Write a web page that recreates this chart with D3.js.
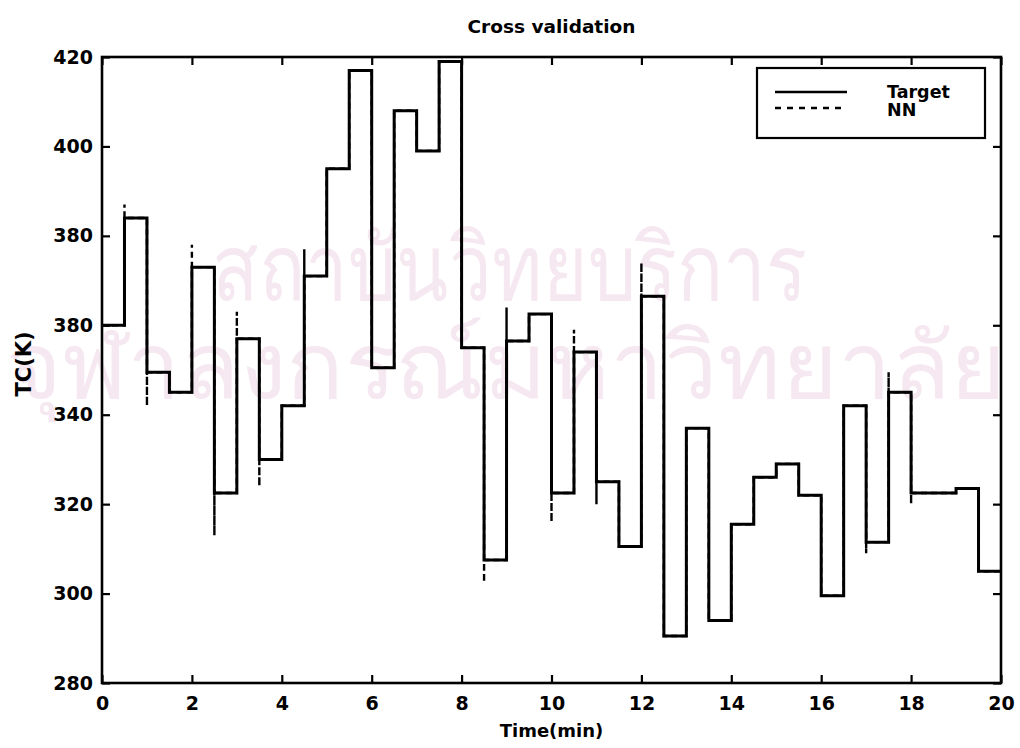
<!DOCTYPE html>
<html>
<head>
<meta charset="utf-8">
<script src="https://cdn.jsdelivr.net/npm/d3@7"></script>
<style>
  html, body { margin: 0; padding: 0; background: #fff; }
  svg { display: block; }
  text { font-family: "DejaVu Sans", "Liberation Sans", Arial, sans-serif; }
</style>
</head>
<body>
<svg id="chart" width="1020" height="748"></svg>
<script>
// ---- data ----
const stepTime = 0.5; // minutes per step
const targetValues = [360, 384, 349.5, 345, 373, 322.5, 357, 330, 342, 371,
                      395, 417, 350.5, 408, 399, 419, 355, 307.5, 356.5, 362.5,
                      322.5, 354, 325, 310.5, 366.5, 290.5, 337, 294, 315.5, 326,
                      329, 322, 299.5, 342, 311.5, 345, 322.5, 322.5, 323.5, 305];
const nnValues = targetValues.slice();
// overshoot of NN at the start of each step (null = none)
const nnPeaks = [null, 387, 342, null, 378, 313, 363, 324, null, 377,
                 null, null, null, null, null, null, null, 302.5, 364, null,
                 316, 359, 320, null, 374, null, null, null, null, null,
                 null, null, null, null, 309, 349.5, 320, null, null, null];
const xTicks = [0, 2, 4, 6, 8, 10, 12, 14, 16, 18, 20];
const yTicks = [280, 300, 320, 340, 360, 380, 400, 420];
const yTickLabels = ["280", "300", "320", "340", "380", "380", "400", "420"];
const title = "Cross validation";
const xLabel = "Time(min)";
const yLabel = "TC(K)";
const legendNames = ["Target", "NN"];
const watermarkLines = ["สถาบันวิทยบริการ", "จุฬาลงกรณ์มหาวิทยาลัย"];

// ---- layout ----
const svg = d3.select("#chart");
const L = 102, R = 1001, T = 57, B = 683;
const x = d3.scaleLinear().domain([0, 20]).range([L, R]);
const y = d3.scaleLinear().domain([280, 420]).range([B, T]);
const FONT = "'DejaVu Sans', 'Liberation Sans', Arial, sans-serif";

// watermark (faint scan background)
const wm = svg.append("g").attr("fill", "#f6e8f0")
  .attr("font-family", "'Noto Sans Thai','Noto Sans','DejaVu Sans',sans-serif");
wm.append("text").attr("x", 212).attr("y", 300)
  .attr("font-size", 92).attr("textLength", 595).attr("lengthAdjust", "spacingAndGlyphs")
  .text(watermarkLines[0]);
wm.append("text").attr("x", 6).attr("y", 398)
  .attr("font-size", 92).attr("textLength", 1000).attr("lengthAdjust", "spacingAndGlyphs")
  .text(watermarkLines[1]);

// target path
const targetPts = [];
targetValues.forEach((v, i) => {
  targetPts.push([i * stepTime, v]);
  targetPts.push([(i + 1) * stepTime, v]);
});
const line = d3.line().x(d => x(d[0])).y(d => y(d[1]));

// NN path with overshoot spikes
const nnPts = [];
nnValues.forEach((v, i) => {
  const t0 = i * stepTime;
  if (i > 0) nnPts.push([t0, nnValues[i - 1]]);
  if (nnPeaks[i] != null) nnPts.push([t0, nnPeaks[i]]);
  nnPts.push([t0, v]);
  nnPts.push([(i + 1) * stepTime, v]);
});

svg.append("path").attr("d", line(targetPts))
  .attr("fill", "none").attr("stroke", "#000").attr("stroke-width", 3)
  .attr("stroke-linejoin", "miter");
svg.append("path").attr("d", line(nnPts))
  .attr("fill", "none").attr("stroke", "#000").attr("stroke-width", 2.4)
  .attr("stroke-dasharray", "6,4");

// axes box
svg.append("rect").attr("x", L).attr("y", T).attr("width", R - L).attr("height", B - T)
  .attr("fill", "none").attr("stroke", "#000").attr("stroke-width", 2.6);

const tl = 8;
const fontTick = 19;
const bottomAxis = d3.axisBottom(x).tickValues(xTicks).tickSize(-tl).tickPadding(14).tickFormat(d3.format("d"));
const gB = svg.append("g").attr("transform", `translate(0,${B})`).call(bottomAxis);
const topAxis = d3.axisTop(x).tickValues(xTicks).tickSize(-tl).tickFormat("");
const gT = svg.append("g").attr("transform", `translate(0,${T})`).call(topAxis);
const leftAxis = d3.axisLeft(y).tickValues(yTicks).tickSize(-tl).tickPadding(9)
  .tickFormat((d, i) => yTickLabels[i]);
const gL = svg.append("g").attr("transform", `translate(${L},0)`).call(leftAxis);
const rightAxis = d3.axisRight(y).tickValues(yTicks).tickSize(-tl).tickFormat("");
const gR = svg.append("g").attr("transform", `translate(${R},0)`).call(rightAxis);
[gB, gT, gL, gR].forEach(g => {
  g.select(".domain").remove();
  g.selectAll(".tick line").attr("stroke", "#000").attr("stroke-width", 2.2);
  g.selectAll(".tick text").attr("fill", "#000").attr("font-size", fontTick)
    .attr("font-weight", "bold").attr("font-family", FONT);
});

// labels
svg.append("text").attr("x", (L + R) / 2).attr("y", 33).attr("text-anchor", "middle")
  .attr("font-size", 18.5).attr("font-weight", "bold").text(title);
svg.append("text").attr("x", (L + R) / 2).attr("y", 737).attr("text-anchor", "middle")
  .attr("font-size", 18).attr("font-weight", "bold").text(xLabel);
svg.append("text").attr("transform", "translate(31,364) rotate(-90)").attr("text-anchor", "middle")
  .attr("font-size", 21).attr("font-weight", "bold").text(yLabel);

// legend
const lg = svg.append("g");
lg.append("rect").attr("x", 757).attr("y", 68).attr("width", 228).attr("height", 70)
  .attr("fill", "#fff").attr("stroke", "#000").attr("stroke-width", 2.2);
lg.append("line").attr("x1", 775).attr("x2", 847).attr("y1", 92).attr("y2", 92)
  .attr("stroke", "#000").attr("stroke-width", 2.6);
lg.append("line").attr("x1", 775).attr("x2", 847).attr("y1", 108).attr("y2", 108)
  .attr("stroke", "#000").attr("stroke-width", 2.6).attr("stroke-dasharray", "6,6");
lg.selectAll("text.leg").data(legendNames).join("text").attr("class", "leg")
  .attr("x", 887).attr("y", (d, i) => 98 + i * 18)
  .attr("font-size", 17.5).attr("font-weight", "bold").text(d => d);
</script>
</body>
</html>
